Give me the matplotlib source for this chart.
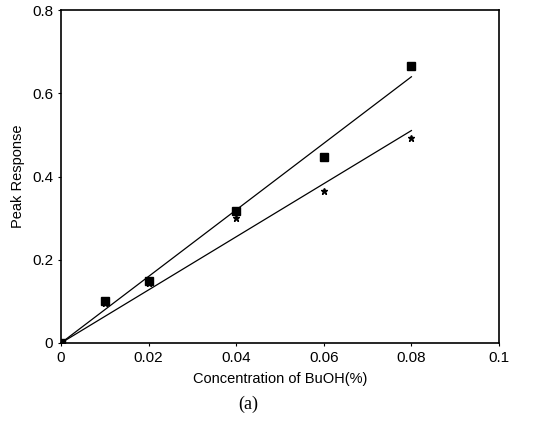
import numpy as np
import matplotlib
matplotlib.use("Agg")
import matplotlib.pyplot as plt

conc = [0.0, 0.01, 0.02, 0.04, 0.06, 0.08]
resp_square = [0.0, 0.100, 0.150, 0.318, 0.447, 0.665]
resp_star = [0.0, 0.095, 0.145, 0.300, 0.365, 0.493]
xticks = [0, 0.02, 0.04, 0.06, 0.08, 0.1]
xticklabels = ["0", "0.02", "0.04", "0.06", "0.08", "0.1"]
yticks = [0, 0.2, 0.4, 0.6, 0.8]
yticklabels = ["0", "0.2", "0.4", "0.6", "0.8"]

plt.rcParams['font.family'] = ['Liberation Sans', 'DejaVu Sans']
W, H = 548, 421
L, R, T, B = 61, 499, 10, 343
fig = plt.figure(figsize=(W/100, H/100), dpi=100)
ax = fig.add_axes([L/W, 1 - B/H, (R-L)/W, (B-T)/H])

x = np.array(conc)
for y in [np.array(resp_square), np.array(resp_star)]:
    slope = np.sum(x * y) / np.sum(x * x)
    xl = np.array([0, x.max()])
    ax.plot(xl, slope * xl, color='black', lw=0.9)
ax.plot(conc, resp_star, linestyle='none', marker='*', color='black', markersize=4.5)
ax.plot(conc, resp_square, linestyle='none', marker='s', color='black', markersize=6)

ax.set_xlim(0, 0.1)
ax.set_ylim(0, 0.8)
ax.set_xticks(xticks)
ax.set_xticklabels(xticklabels, fontsize=11)
ax.set_yticks(yticks)
ax.set_yticklabels(yticklabels, fontsize=11)
ax.tick_params(direction='out', length=2.5, width=0.8, pad=3)
for s in ax.spines.values():
    s.set_linewidth(1.2)
ax.set_xlabel("Concentration of BuOH(%)", fontsize=10.5, labelpad=5)
ax.set_ylabel("Peak Response", fontsize=10.5, labelpad=5)
fig.text(248/W, 1 - 404/H, "(a)", ha='center', va='center',
         fontsize=13, family=['Liberation Serif'])
fig.savefig("out.png", dpi=100)
